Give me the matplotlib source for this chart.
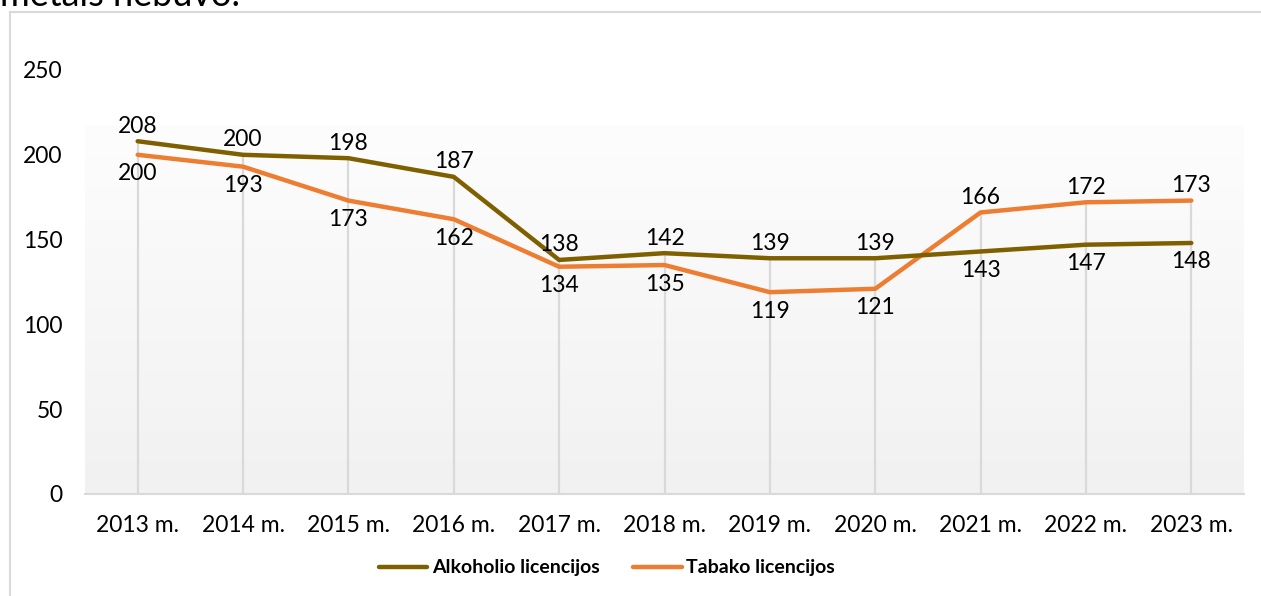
import numpy as np
import matplotlib
matplotlib.use("Agg")
import matplotlib.pyplot as plt
from matplotlib.colors import LinearSegmentedColormap

years = ["2013 m.", "2014 m.", "2015 m.", "2016 m.", "2017 m.", "2018 m.",
         "2019 m.", "2020 m.", "2021 m.", "2022 m.", "2023 m."]
alkoholio = [208, 200, 198, 187, 138, 142, 139, 139, 143, 147, 148]
tabako = [200, 193, 173, 162, 134, 135, 119, 121, 166, 172, 173]

plt.rcParams['font.family'] = ['Lato', 'DejaVu Sans']

W, H = 1261, 596
fig = plt.figure(figsize=(W / 100, H / 100), dpi=100)
ax = fig.add_axes([85 / W, 102 / H, 1159 / W, 424 / H])

x = np.arange(len(years))

# gradient plot-area fill
cmap = LinearSegmentedColormap.from_list("g", ["#f1f1f1", "#fdfdfd"])
ax.imshow(np.linspace(0, 1, 200).reshape(-1, 1), extent=[-0.5, 10.5, 0, 217.5],
          cmap=cmap, aspect="auto", origin="lower", zorder=0)

# drop lines
tops = np.maximum(alkoholio, tabako)
ax.vlines(x, 0, tops, color="#d9d9d9", lw=1.6, zorder=1)

ax.plot(x, alkoholio, color="#7f6000", lw=3.2, solid_capstyle="round", zorder=3,
        label="Alkoholio licencijos")
ax.plot(x, tabako, color="#ed7d31", lw=3.2, solid_capstyle="round", zorder=2,
        label="Tabako licencijos")

fs = 16.5
for i in range(len(years)):
    a, t = alkoholio[i], tabako[i]
    up_a = a >= t
    ax.annotate(str(a), (i, a), xytext=(0, 15 if up_a else -19), textcoords="offset pixels",
                ha="center", va="center", fontsize=fs, color="black", zorder=5)
    ax.annotate(str(t), (i, t), xytext=(0, -19 if up_a else 15), textcoords="offset pixels",
                ha="center", va="center", fontsize=fs, color="black", zorder=5)

ax.set_xlim(-0.5, 10.5)
ax.set_ylim(0, 250)
ax.set_yticks(range(0, 251, 50))
ax.set_xticks(x)
ax.set_xticklabels(years)
ax.tick_params(axis="both", length=0, labelsize=fs, colors="black")
ax.tick_params(axis="y", pad=16)
ax.tick_params(axis="x", pad=15)
for s in ["top", "right", "left"]:
    ax.spines[s].set_visible(False)
ax.spines["bottom"].set_color("#d9d9d9")
ax.spines["bottom"].set_linewidth(1.5)
ax.set_facecolor("none")

fig.legend(loc="center", bbox_to_anchor=(607 / W, 28 / H), ncol=2, frameon=False,
           prop={"weight": "bold", "size": 14}, handlelength=2.5,
           handletextpad=0.25, columnspacing=1.7)

# chart border (only left and top visible in the crop)
fig.add_artist(plt.Line2D([10 / W, 10 / W], [0, 1 - 12 / H], color="#d9d9d9", lw=1.5))
fig.add_artist(plt.Line2D([10 / W, 1], [1 - 12 / H, 1 - 12 / H], color="#d9d9d9", lw=1.5))

# cut-off text above the chart
fig.text(0, 1 - 6 / H, "metais nebuvo.", fontsize=26, ha="left", va="baseline")

fig.savefig("out.png", dpi=100)
